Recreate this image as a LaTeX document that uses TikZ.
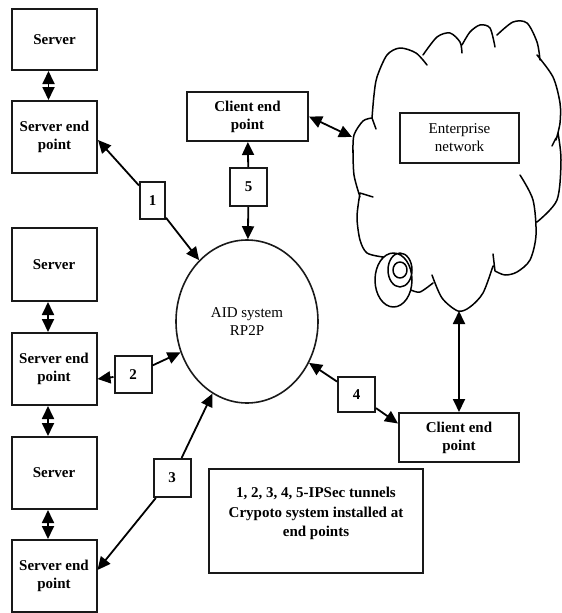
\documentclass[tikz,border=0pt]{standalone}
\usepackage{fontspec}
\setmainfont{Liberation Serif}
\usetikzlibrary{arrows.meta}
\usetikzlibrary{shapes.geometric}

\begin{document}
\begin{tikzpicture}[%
        x=1pt, y=-1pt,
        box/.style={
            % the shape:
            rectangle,
            % the rest:
            line width=2pt,
            draw=black!90,
            font=\fontsize{15}{18}\selectfont\bfseries,
            align=center,
            inner sep=0pt,
        },
        server/.style={
            box,
            minimum width=85pt,
            minimum height=72pt,
        },
        client/.style={
            box,
            minimum width=121pt,
            minimum height=49pt,
        },
        tunnel/.style={
            box,
            minimum width=37pt,
            minimum height=37pt,
        },
        system/.style={
            % the shape:
            ellipse,
            % the rest:
            line width=1.6pt,
            draw=black!90,
            font=\fontsize{15}{18}\selectfont,
            align=center,
            minimum width=142pt,
            minimum height=163pt,
        },
        cloud/.style={
            line width=1.5pt,
            line cap=round,
            line join=round,
        },
        >={Triangle[length=13pt,width=12pt]}, line width=1.8pt
    ]

    \useasboundingbox (0,0) rectangle (562,613);

    % servers and their end points
    \node[server, minimum height=61pt] (srv1) at (54.5,39.5) {Server};
    \node[server] (sep1) at (54.5,137) {Server end\\point};
    \node[server, minimum height=73pt] (srv2) at (54,264.5) {Server};
    \node[server] (sep2) at (54,369) {Server end\\point};
    \node[server] (srv3) at (54,473) {Server};
    \node[server] (sep3) at (54,576) {Server end\\point};

    % the rest
    \node[system] (aid) at (247,321.5) {AID system\\RP2P};
    \node[client] (cep1) at (247.5,116.5) {Client end\\point};
    \node[client, minimum width=120pt] (cep2) at (459,437.5) {Client end\\point};
    \node[box, font=\fontsize{15}{18}\selectfont, minimum width=119pt, minimum height=50pt] (ent) at (459.5,138) {Enterprise\\network};
    \node[box, font=\fontsize{15}{19.5}\selectfont\bfseries, minimum width=214pt, minimum height=104pt] (note) at (316,521)
        {1, 2, 3, 4, 5-IPSec tunnels\\Crypoto system installed at\\end points\\[-2pt]};

    % tunnels
    \node[tunnel, minimum width=25pt] (t1) at (152.5,200.5) {1};
    \node[tunnel, minimum height=37pt] (t2) at (133,374.5) {2};
    \node[tunnel, minimum height=38pt] (t3) at (172,478) {3};
    \node[tunnel, minimum height=35pt] (t4) at (356.5,394.5) {4};
    \node[tunnel, minimum height=38pt] (t5) at (248.5,187) {5};

    % cloud
    \draw[cloud]
        plot[smooth] coordinates {(353,153) (354,135) (363,121) (372,118)}
        (372,118) -- (376,129)
        plot[smooth] coordinates {(372,118) (374,95) (377,77) (387,55) (400,48) (416,53) (427,65)}
        plot[smooth] coordinates {(423,55) (437,37) (450,33) (460,42) (462,53)}
        plot[smooth] coordinates {(462,45) (470,32) (480,25) (490,28) (495,47)}
        plot[smooth] coordinates {(497,35) (513,22) (527,23) (537,42) (540,60)}
        plot[smooth] coordinates {(537,55) (553,77) (560,103) (560,123) (556,140)}
        (556,138) -- (552,146)
        plot[smooth] coordinates {(558,133) (561,160) (557,200) (537,222)}
        plot[smooth] coordinates {(520,175) (533,200) (536,235) (530,260) (517,272) (505,275) (495,271)}
        (495,271) -- (493,254)
        plot[smooth] coordinates {(493,266) (483,293) (470,307) (458,311) (442,298) (432,275)}
        plot[smooth] coordinates {(433,283) (420,292) (411,290)}
        (393.5,280) ellipse [x radius=18.5pt, y radius=27pt]
        (400,270) ellipse [x radius=12pt, y radius=17pt]
        (400,270) ellipse [x radius=7pt, y radius=8pt]
        plot[smooth] coordinates {(383,257) (367,253) (360,240) (357,217) (360,193)}
        (360,193) -- (373,197)
        plot[smooth] coordinates {(360,197) (354,175) (353,150)};
    \coordinate (cloudw) at (352,137);
    \coordinate (cloudb) at (459,311);

    % connectors
    \draw[<->] ([xshift=-6pt]srv1.south) -- ([xshift=-6pt]sep1.north);
    \draw[<->] ([xshift=-6pt]srv2.south) -- ([xshift=-6pt]sep2.north);
    \draw[<->] ([xshift=-6pt]sep2.south) -- ([xshift=-6pt]srv3.north);
    \draw[<->] ([xshift=-6pt]srv3.south) -- ([xshift=-6pt]sep3.north);

    \draw[->] (t1) -- ([yshift=-3pt]sep1.east);
    \draw[->] (t1) -- (aid);
    \draw[->] (t2) -- ([yshift=-10pt]sep2.east);
    \draw[->] (t2) -- (aid);
    \draw[->] (t3) -- ([yshift=6pt]sep3.east);
    \draw[->] (t3) -- (aid);
    \draw[->] (t4) -- (aid);
    \draw[->] (t4) -- ([yshift=14pt]cep2.west);
    \draw[->] (t5) -- (cep1);
    \draw[->] (t5) -- (aid);

    \draw[<->] (cep1.east) -- (cloudw);
    \draw[<->] (cloudb) -- (cep2);

\end{tikzpicture}
\end{document}
